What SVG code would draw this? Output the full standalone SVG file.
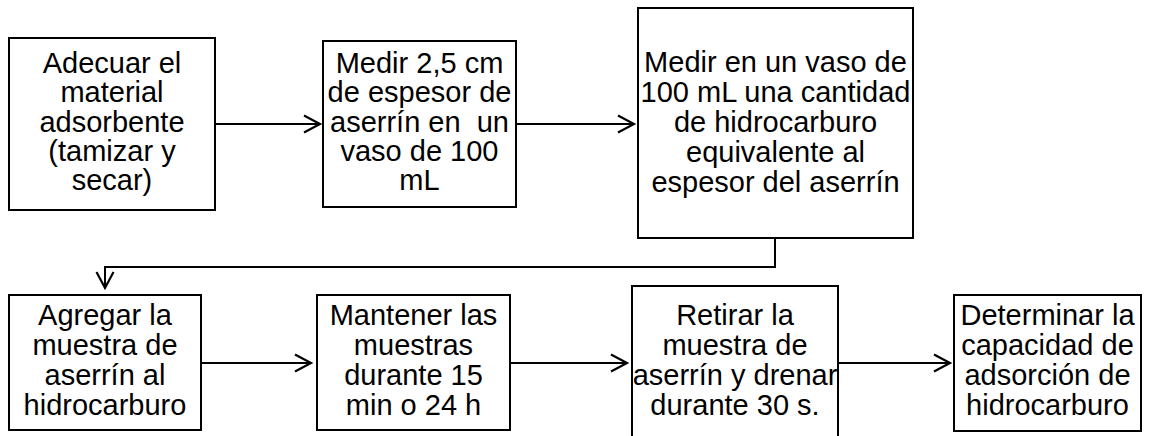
<svg xmlns="http://www.w3.org/2000/svg" width="1152" height="436" viewBox="0 0 1152 436">
<style>
rect{fill:#fff;stroke:#000;stroke-width:2}
text{font-family:"Liberation Sans",Arial,sans-serif;font-size:29px;fill:#000;text-anchor:middle;white-space:pre}
.c{fill:none;stroke:#000;stroke-width:2}
</style>
<defs>
<marker id="a" markerUnits="userSpaceOnUse" markerWidth="22" markerHeight="22" refX="18" refY="10" orient="auto">
<path d="M2,1.5 L18,10 L2,18.5" fill="none" stroke="#000" stroke-width="2.2"/>
</marker>
</defs>
<rect width="1152" height="436" style="stroke:none"/>
<g id="connectors">
<path class="c" d="M215,124 H320" marker-end="url(#a)"/>
<path class="c" d="M516,124 H634" marker-end="url(#a)"/>
<path class="c" d="M775,238 V267 H105 V288" marker-end="url(#a)"/>
<path class="c" d="M201,363 H311" marker-end="url(#a)"/>
<path class="c" d="M510,363 H627" marker-end="url(#a)"/>
<path class="c" d="M838,363 H950" marker-end="url(#a)"/>
</g>
<g id="n1"><rect x="9" y="38" width="206" height="172"/>
<text x="112" y="73"><tspan x="112">Adecuar el</tspan><tspan x="112" dy="29.3">material</tspan><tspan x="112" dy="29.3">adsorbente</tspan><tspan x="112" dy="29.3">(tamizar y</tspan><tspan x="112" dy="29.3">secar)</tspan></text></g>
<g id="n2"><rect x="323" y="41" width="193" height="166"/>
<text x="419.5" y="73"><tspan x="419.5">Medir 2,5 cm</tspan><tspan x="419.5" dy="29.3">de espesor de</tspan><tspan x="419.5" dy="29.3">aserrín en  un</tspan><tspan x="419.5" dy="29.3">vaso de 100</tspan><tspan x="419.5" dy="29.3">mL</tspan></text></g>
<g id="n3"><rect x="638" y="8" width="275" height="230"/>
<text x="775.5" y="72"><tspan x="775.5">Medir en un vaso de</tspan><tspan x="775.5" dy="30">100 mL una cantidad</tspan><tspan x="775.5" dy="30">de hidrocarburo</tspan><tspan x="775.5" dy="30">equivalente al</tspan><tspan x="775.5" dy="30">espesor del aserrín</tspan></text></g>
<g id="n4"><rect x="9" y="295" width="192" height="135"/>
<text x="105" y="325"><tspan x="105">Agregar la</tspan><tspan x="105" dy="30">muestra de</tspan><tspan x="105" dy="30">aserrín al</tspan><tspan x="105" dy="30">hidrocarburo</tspan></text></g>
<g id="n5"><rect x="317" y="295" width="193" height="135"/>
<text x="413.5" y="325"><tspan x="413.5">Mantener las</tspan><tspan x="413.5" dy="30">muestras</tspan><tspan x="413.5" dy="30">durante 15</tspan><tspan x="413.5" dy="30">min o 24 h</tspan></text></g>
<g id="n6"><rect x="632" y="286" width="206" height="160"/>
<text x="735" y="325"><tspan x="735">Retirar la</tspan><tspan x="735" dy="30">muestra de</tspan><tspan x="735" dy="30">aserrín y drenar</tspan><tspan x="735" dy="30">durante 30 s.</tspan></text></g>
<g id="n7"><rect x="954" y="295" width="187" height="136"/>
<text x="1047.5" y="325"><tspan x="1047.5">Determinar la</tspan><tspan x="1047.5" dy="30">capacidad de</tspan><tspan x="1047.5" dy="30">adsorción de</tspan><tspan x="1047.5" dy="30">hidrocarburo</tspan></text></g>
</svg>
